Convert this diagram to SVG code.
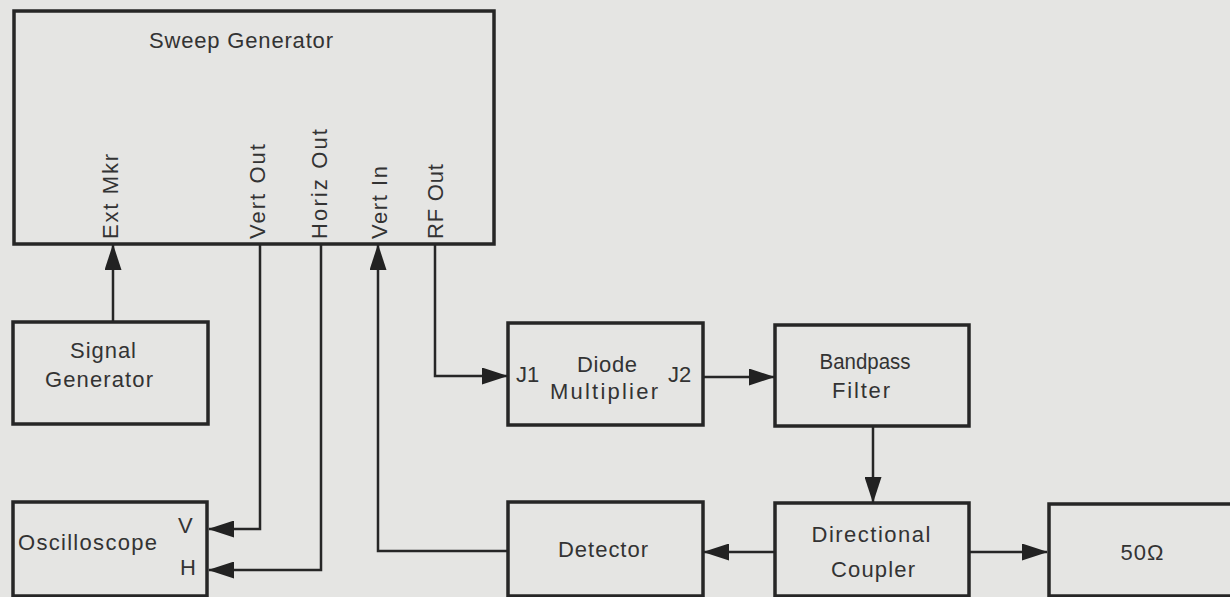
<svg xmlns="http://www.w3.org/2000/svg" width="1230" height="597" viewBox="0 0 1230 597">
<style>
.box{fill:none;stroke:#262626;stroke-width:3.5}
.wire{fill:none;stroke:#262626;stroke-width:2.5;marker-end:url(#arr)}
text{font-family:"Liberation Sans",Arial,sans-serif;font-size:22px;fill:#333}
.c{text-anchor:middle}
</style>
<defs>
<marker id="arr" markerUnits="userSpaceOnUse" markerWidth="26" markerHeight="17" viewBox="0 0 26 17" refX="25" refY="8.5" orient="auto">
<path d="M0,0 L26,8.5 L0,17 Z" fill="#222"/>
</marker>
</defs>
<rect width="1230" height="597" fill="#e5e5e3"/>
<g id="connectors">
<path class="wire" d="M113,322 V245"/>
<path class="wire" d="M260,244 V529 H209"/>
<path class="wire" d="M321,244 V570 H209"/>
<path class="wire" d="M508,551 H378 V245"/>
<path class="wire" d="M435,244 V376 H507"/>
<path class="wire" d="M703,377 H774"/>
<path class="wire" d="M873,426 V502"/>
<path class="wire" d="M775,552 H704"/>
<path class="wire" d="M969,552 H1047"/>
</g>
<g id="sweep-generator">
<rect class="box" x="14" y="11" width="480" height="233"/>
<text class="c" x="241" y="48" textLength="184" lengthAdjust="spacing">Sweep Generator</text>
<text transform="translate(118,239) rotate(-90)" textLength="85" lengthAdjust="spacing">Ext Mkr</text>
<text transform="translate(265,239) rotate(-90)" textLength="95" lengthAdjust="spacing">Vert Out</text>
<text transform="translate(327,239) rotate(-90)" textLength="110" lengthAdjust="spacing">Horiz Out</text>
<text transform="translate(387,239) rotate(-90)" textLength="73" lengthAdjust="spacing">Vert In</text>
<text transform="translate(443,239) rotate(-90)" textLength="75" lengthAdjust="spacing">RF Out</text>
</g>
<g id="signal-generator">
<rect class="box" x="13" y="322" width="195" height="102"/>
<text class="c" x="103" y="358" textLength="66" lengthAdjust="spacing">Signal</text>
<text class="c" x="99" y="387" textLength="108" lengthAdjust="spacing">Generator</text>
</g>
<g id="oscilloscope">
<rect class="box" x="13" y="502" width="194" height="94"/>
<text x="18" y="550" textLength="139" lengthAdjust="spacing">Oscilloscope</text>
<text x="178" y="533">V</text>
<text x="180" y="575">H</text>
</g>
<g id="diode-multiplier">
<rect class="box" x="508" y="323" width="195" height="102"/>
<text x="516" y="382">J1</text>
<text class="c" x="607" y="372" textLength="60" lengthAdjust="spacing">Diode</text>
<text class="c" x="604" y="399" textLength="108" lengthAdjust="spacing">Multiplier</text>
<text x="668" y="382">J2</text>
</g>
<g id="bandpass-filter">
<rect class="box" x="775" y="325" width="194" height="101"/>
<text class="c" x="865" y="369" textLength="91" lengthAdjust="spacingAndGlyphs">Bandpass</text>
<text class="c" x="861" y="398" textLength="58" lengthAdjust="spacing">Filter</text>
</g>
<g id="detector">
<rect class="box" x="508" y="502" width="195" height="94"/>
<text class="c" x="603" y="557" textLength="90" lengthAdjust="spacing">Detector</text>
</g>
<g id="directional-coupler">
<rect class="box" x="775" y="503" width="194" height="93"/>
<text class="c" x="871" y="542" textLength="119" lengthAdjust="spacing">Directional</text>
<text class="c" x="873" y="577" textLength="84" lengthAdjust="spacing">Coupler</text>
</g>
<g id="load-50ohm">
<rect class="box" x="1049" y="504" width="200" height="92"/>
<text class="c" x="1142" y="560" textLength="43" lengthAdjust="spacing">50Ω</text>
</g>
</svg>
